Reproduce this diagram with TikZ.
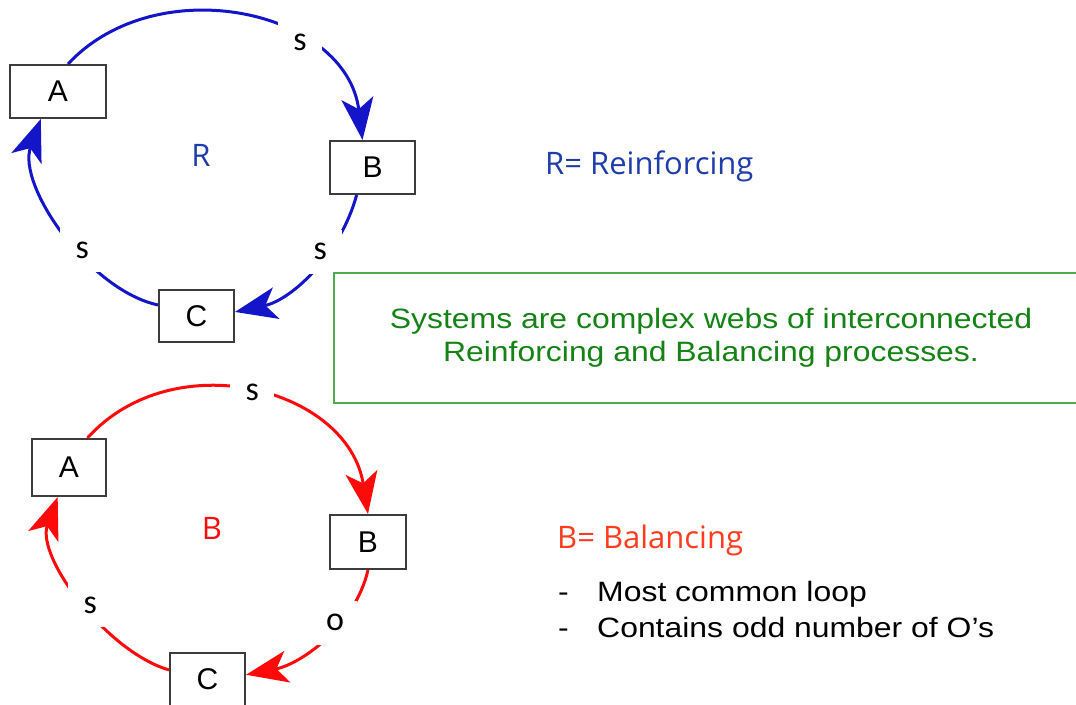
\documentclass[tikz,border=0pt]{standalone}
\usepackage{fontspec}
\setmainfont{Liberation Sans}
\newfontfamily\widefont[FakeStretch=1.14,Ligatures=TeX]{Liberation Sans}
\newfontfamily\segoefont{Open Sans}
\newfontfamily\califont{Carlito}
\usetikzlibrary{arrows.meta}
\definecolor{loopblue}{RGB}{20,20,200}
\definecolor{rblue}{RGB}{30,60,170}
\definecolor{loopred}{RGB}{255,10,10}
\definecolor{balred}{RGB}{255,60,30}
\definecolor{boxgreen}{RGB}{80,170,80}
\definecolor{txtgreen}{RGB}{20,130,20}
\definecolor{boxgray}{RGB}{60,60,60}

\begin{document}
\begin{tikzpicture}[x=1pt,y=1pt]
	\tikzstyle{box}=[draw=boxgray,line width=2pt,fill=white,inner sep=0,font=\fontsize{30}{36}\selectfont]
	\tikzstyle{bedge}=[-{Stealth[length=42pt,width=32pt,inset=11pt]},line width=3pt,loopblue]
	\tikzstyle{redge}=[-{Stealth[length=42pt,width=32pt,inset=11pt]},line width=3pt,loopred]
	\tikzstyle{sgn}=[fill=white,text=black,inner sep=0,minimum size=44pt,font=\califont\fontsize{34}{40}\selectfont]
	\tikzstyle{big}=[font=\segoefont\fontsize{31}{36}\selectfont]
	\tikzstyle{txt}=[anchor=base west,inner sep=0,font=\widefont\fontsize{28}{33}\selectfont]
	\useasboundingbox (0,0) rectangle (1076,704);

	% reinforcing loop
	\node [box,minimum width=96pt,minimum height=53pt] (a1) at (58, 612.5) {A};
	\node [box,minimum width=85pt,minimum height=53pt] (b1) at (372.5, 536.5) {B};
	\node [box,minimum width=75pt,minimum height=52pt] (c1) at (196.5, 388) {C};
	\node [big,text=rblue] (r) at (201, 549) {R};

	\draw[bedge] (a1.70) to[out=47,in=97,looseness=1.1] node[sgn,pos=0.67]{s} (b1.110);
	\draw[bedge] (b1.240) to[out=255,in=12,looseness=0.9] node[sgn,pos=0.36,xshift=-8pt]{s} (c1.6);
	\draw[bedge] (c1.164) to[out=168,in=250,looseness=0.82] node[sgn,pos=0.41,xshift=4pt]{s} (a1.238);

	% balancing loop
	\node [box,minimum width=74pt,minimum height=57pt] (a2) at (69, 236.5) {A};
	\node [box,minimum width=76pt,minimum height=54pt] (b2) at (368, 162) {B};
	\node [box,minimum width=75pt,minimum height=53pt] (c2) at (207.5, 24.5) {C};
	\node [big,text=loopred] (b) at (212, 176) {B};

	\draw[redge] (a2.58) to[out=48,in=99,looseness=1.13] node[sgn,pos=0.5]{s} (b2.north);
	\draw[redge] (b2.south) to[out=257,in=11,looseness=0.9] node[sgn,pos=0.36,xshift=-5pt]{o} (c2.7);
	\draw[redge] (c2.166) to[out=164,in=250,looseness=0.8] node[sgn,pos=0.47,xshift=4pt]{s} (a2.249);

	% note and legend
	\node [draw=boxgreen,line width=1.5pt,minimum width=754pt,minimum height=130pt,text=txtgreen,align=center,font=\widefont\fontsize{28}{33}\selectfont] (note) at (711, 366) {Systems are complex webs of interconnected\\Reinforcing and Balancing processes.};

	\node [big,anchor=base west,inner sep=0,text=rblue] (rdef) at (545, 529) {R= Reinforcing};
	\node [big,anchor=base west,inner sep=0,text=balred] (bdef) at (557, 155) {B= Balancing};
	\node [txt] (d1) at (558, 102) {-};
	\node [txt] (i1) at (597, 102) {Most common loop};
	\node [txt] (d2) at (558, 66) {-};
	\node [txt] (i2) at (597, 66) {Contains odd number of O’s};
\end{tikzpicture}
\end{document}
